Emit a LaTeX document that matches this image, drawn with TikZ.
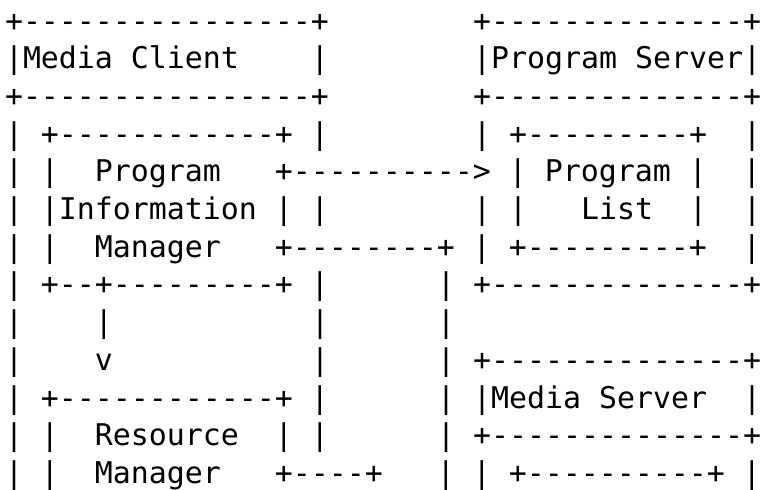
\documentclass[tikz,border=0pt]{standalone}
\usepackage{fontspec}
\setmonofont{DejaVu Sans Mono}
\begin{document}
\begin{tikzpicture}[x=0.5pt,y=-0.5pt,
  asciirow/.style={anchor=base west,inner sep=0pt,outer sep=0pt,text=black,
    font=\ttfamily\fontsize{14.95pt}{18pt}\selectfont}]
\useasboundingbox (0,0) rectangle (762,489);
\clip (0,0) rectangle (762,489);
\node[asciirow] (r1)  at (5,31.0)  {+----------------+~~~~~~~~+--------------+};
\node[asciirow] (r2)  at (5,68.7)  {|Media~Client~~~~|~~~~~~~~|Program~Server|};
\node[asciirow] (r3)  at (5,106.4) {+----------------+~~~~~~~~+--------------+};
\node[asciirow] (r4)  at (5,144.1) {|~+------------+~|~~~~~~~~|~+---------+~~|};
\node[asciirow] (r5)  at (5,181.8) {|~|~~Program~~~+---------->~|~Program~|~~|};
\node[asciirow] (r6)  at (5,219.5) {|~|Information~|~|~~~~~~~~|~|~~~List~~|~~|};
\node[asciirow] (r7)  at (5,257.2) {|~|~~Manager~~~+--------+~|~+---------+~~|};
\node[asciirow] (r8)  at (5,294.9) {|~+--+---------+~|~~~~~~|~+--------------+};
\node[asciirow] (r9)  at (5,332.6) {|~~~~|~~~~~~~~~~~|~~~~~~|};
\node[asciirow] (r10) at (5,370.3) {|~~~~v~~~~~~~~~~~|~~~~~~|~+--------------+};
\node[asciirow] (r11) at (5,408.0) {|~+------------+~|~~~~~~|~|Media~Server~~|};
\node[asciirow] (r12) at (5,445.7) {|~|~~Resource~~|~|~~~~~~|~+--------------+};
\node[asciirow] (r13) at (5,483.4) {|~|~~Manager~~~+----+~~~|~|~+----------+~|};
\end{tikzpicture}
\end{document}
